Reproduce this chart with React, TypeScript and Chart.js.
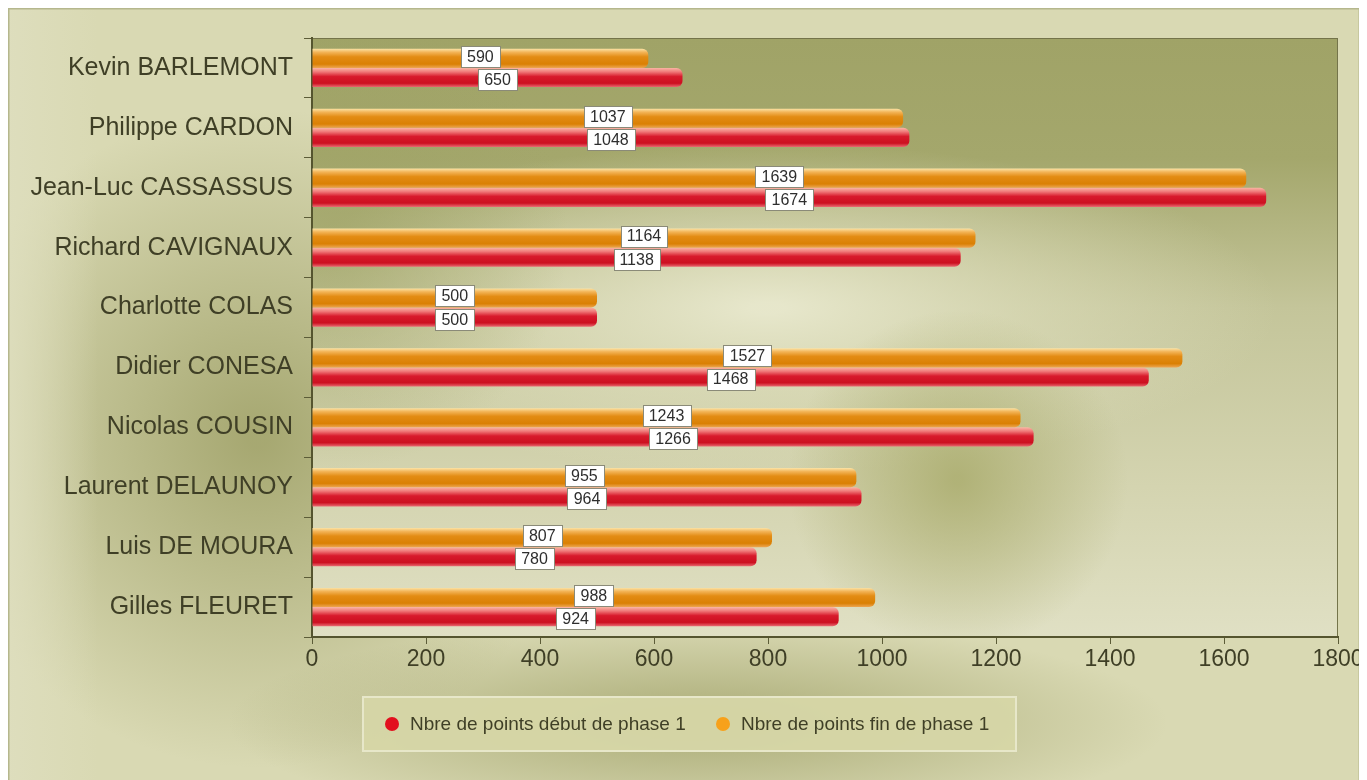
import React, { useEffect, useRef } from "react";
import { Chart, registerables } from "chart.js";

Chart.register(...registerables);

const categories = [
  "Kevin BARLEMONT",
  "Philippe CARDON",
  "Jean-Luc CASSASSUS",
  "Richard CAVIGNAUX",
  "Charlotte COLAS",
  "Didier CONESA",
  "Nicolas COUSIN",
  "Laurent DELAUNOY",
  "Luis DE MOURA",
  "Gilles FLEURET",
];
const debutPhase1 = [650, 1048, 1674, 1138, 500, 1468, 1266, 964, 780, 924];
const finPhase1 = [590, 1037, 1639, 1164, 500, 1527, 1243, 955, 807, 988];
const seriesNames = ["Nbre de points début de phase 1", "Nbre de points fin de phase 1"];
const xMin = 0;
const xMax = 1800;
const xStep = 200;

const FONT = "'Liberation Sans', Arial, sans-serif";
const TEXT = "#3f3f26";
const CAT_PCT = 0.64;

function barGradient(ctx: any, which: "fin" | "debut") {
  const chart = ctx.chart;
  const fallback = which === "fin" ? "#e08a10" : "#d01828";
  const yScale = chart.scales && chart.scales.y;
  if (!yScale || !chart.chartArea || ctx.dataIndex === undefined) return fallback;
  const center = yScale.getPixelForValue(ctx.dataIndex);
  const band = yScale.height / categories.length;
  const h = (band * CAT_PCT) / 2;
  const top = which === "fin" ? center - h : center;
  const g = chart.ctx.createLinearGradient(0, top, 0, top + h);
  if (which === "fin") {
    g.addColorStop(0, "#fbe3a6");
    g.addColorStop(0.18, "#f3b457");
    g.addColorStop(0.42, "#e38c14");
    g.addColorStop(0.8, "#da8004");
    g.addColorStop(1, "#eda652");
  } else {
    g.addColorStop(0, "#f9b6a4");
    g.addColorStop(0.2, "#f07a7a");
    g.addColorStop(0.45, "#d81a2c");
    g.addColorStop(0.8, "#cc1020");
    g.addColorStop(1, "#ea6a72");
  }
  return g;
}

const bgPlugin = {
  id: "bgPlugin",
  beforeDraw(chart: any) {
    const { ctx, width, height, chartArea: ca } = chart;
    if (!ca) return;
    ctx.save();
    ctx.fillStyle = "#e3e3c8";
    ctx.fillRect(0, 0, width, height);
    const FW = 1352;
    ctx.fillStyle = "#d9d9b3";
    ctx.fillRect(0, 0, FW, height);
    let r = ctx.createRadialGradient(250, 430, 10, 250, 430, 330);
    r.addColorStop(0, "rgba(150,152,92,0.75)");
    r.addColorStop(1, "rgba(150,152,92,0)");
    ctx.fillStyle = r;
    ctx.fillRect(0, 0, FW, height);
    ctx.save();
    ctx.translate(690, 715);
    ctx.scale(1, 0.22);
    r = ctx.createRadialGradient(0, 0, 10, 0, 0, 470);
    r.addColorStop(0, "rgba(150,152,92,0.7)");
    r.addColorStop(1, "rgba(150,152,92,0)");
    ctx.fillStyle = r;
    ctx.fillRect(-700, -600, 1400, 1200);
    ctx.restore();
    let lg = ctx.createLinearGradient(0, 0, 90, 0);
    lg.addColorStop(0, "rgba(222,222,190,0.9)");
    lg.addColorStop(1, "rgba(222,222,190,0)");
    ctx.fillStyle = lg;
    ctx.fillRect(0, 0, 90, height);
    ctx.strokeStyle = "#b5b78d";
    ctx.lineWidth = 1.5;
    ctx.strokeRect(0.75, 0.75, FW - 1.5, height + 10);

    const { left, top, right, bottom } = ca;
    const w = right - left;
    const h = bottom - top;
    ctx.save();
    ctx.beginPath();
    ctx.rect(left, top, w, h);
    ctx.clip();
    lg = ctx.createLinearGradient(0, top, 0, bottom);
    lg.addColorStop(0, "#a0a367");
    lg.addColorStop(0.2, "#a4a76c");
    lg.addColorStop(0.45, "#c4c59a");
    lg.addColorStop(0.75, "#d4d4b0");
    lg.addColorStop(1, "#e0e0c4");
    ctx.fillStyle = lg;
    ctx.fillRect(left, top, w, h);
    ctx.save();
    ctx.translate(760, 300);
    ctx.scale(1.7, 0.55);
    r = ctx.createRadialGradient(0, 0, 10, 0, 0, 300);
    r.addColorStop(0, "rgba(234,234,208,0.9)");
    r.addColorStop(0.5, "rgba(226,226,194,0.5)");
    r.addColorStop(1, "rgba(226,226,194,0)");
    ctx.fillStyle = r;
    ctx.fillRect(-600, -900, 1200, 1800);
    ctx.restore();
    r = ctx.createRadialGradient(950, 472, 5, 950, 472, 170);
    r.addColorStop(0, "rgba(168,170,106,0.8)");
    r.addColorStop(1, "rgba(168,170,106,0)");
    ctx.fillStyle = r;
    ctx.fillRect(left, top, w, h);
    r = ctx.createRadialGradient(330, 230, 5, 330, 230, 230);
    r.addColorStop(0, "rgba(158,162,100,0.6)");
    r.addColorStop(1, "rgba(158,162,100,0)");
    ctx.fillStyle = r;
    ctx.fillRect(left, top, w, h);
    ctx.restore();
    ctx.strokeStyle = "#74744a";
    ctx.lineWidth = 1;
    ctx.strokeRect(left + 0.5, top + 0.5, w - 1, h - 1);
    ctx.restore();
  },
};

const labelPlugin = {
  id: "labelPlugin",
  afterDatasetsDraw(chart: any) {
    const ctx = chart.ctx;
    ctx.save();
    ctx.font = `16px ${FONT}`;
    ctx.textAlign = "center";
    ctx.textBaseline = "middle";
    chart.data.datasets.forEach((ds: any, di: number) => {
      const meta = chart.getDatasetMeta(di);
      meta.data.forEach((el: any, i: number) => {
        const txt = String(ds.data[i]);
        const cx = (el.base + el.x) / 2;
        const cy = el.y + (di === 0 ? -2 : 2);
        const tw = ctx.measureText(txt).width;
        const bw = Math.round(tw + 12);
        const bh = 21;
        const bx = Math.round(cx - bw / 2) + 0.5;
        const by = Math.round(cy - bh / 2) + 0.5;
        ctx.fillStyle = "#ffffff";
        ctx.fillRect(bx, by, bw, bh);
        ctx.strokeStyle = "#8a8a78";
        ctx.lineWidth = 1;
        ctx.strokeRect(bx, by, bw, bh);
        ctx.fillStyle = "#2e2e2e";
        ctx.fillText(txt, cx, cy + 1);
      });
    });
    ctx.restore();
  },
};

const legendPlugin = {
  id: "legendPlugin",
  afterDraw(chart: any) {
    const ctx = chart.ctx;
    ctx.save();
    const bx = 354, by = 688, bw = 655, bh = 56;
    ctx.fillStyle = "rgba(214,214,166,0.95)";
    ctx.fillRect(bx, by, bw, bh);
    ctx.strokeStyle = "#e7e7c9";
    ctx.lineWidth = 2;
    ctx.strokeRect(bx + 1, by + 1, bw - 2, bh - 2);
    const cy = by + bh / 2;
    const colors = ["#e2101e", "#f7a11a"];
    const xs = [384, 715];
    ctx.font = `19px ${FONT}`;
    ctx.textBaseline = "middle";
    ctx.textAlign = "left";
    seriesNames.forEach((name, i) => {
      ctx.beginPath();
      ctx.arc(xs[i], cy, 7, 0, Math.PI * 2);
      ctx.fillStyle = colors[i];
      ctx.fill();
      ctx.fillStyle = TEXT;
      ctx.fillText(name, xs[i] + 18, cy + 1);
    });
    ctx.restore();
  },
};

export default function App() {
  const ref = useRef<HTMLCanvasElement | null>(null);
  useEffect(() => {
    document.body.style.overflow = "hidden";
    const canvas = ref.current;
    if (!canvas) return;
    const chart = new Chart(canvas, {
      type: "bar",
      data: {
        labels: categories,
        datasets: [
          {
            label: seriesNames[1],
            data: finPhase1,
            backgroundColor: (c: any) => barGradient(c, "fin"),
            borderWidth: 0,
            borderRadius: 6,
            borderSkipped: "start",
            categoryPercentage: CAT_PCT,
            barPercentage: 1,
          },
          {
            label: seriesNames[0],
            data: debutPhase1,
            backgroundColor: (c: any) => barGradient(c, "debut"),
            borderWidth: 0,
            borderRadius: 6,
            borderSkipped: "start",
            categoryPercentage: CAT_PCT,
            barPercentage: 1,
          },
        ],
      },
      options: {
        indexAxis: "y",
        responsive: false,
        animation: false,
        layout: { padding: { top: 30, right: 29, left: 0, bottom: 0 } },
        plugins: {
          legend: { display: false },
          tooltip: { enabled: false },
          title: { display: false },
        },
        scales: {
          x: {
            type: "linear",
            min: xMin,
            max: xMax,
            afterFit: (s: any) => {
              s.height = 143;
            },
            ticks: {
              stepSize: xStep,
              font: { size: 23, family: FONT },
              color: TEXT,
              padding: 2,
              callback: (v: any) => String(v),
            },
            grid: {
              display: true,
              drawOnChartArea: false,
              drawTicks: true,
              tickLength: 7,
              color: "#5c5c38",
            },
            border: { display: true, color: "#55552f", width: 2 },
          },
          y: {
            type: "category",
            afterFit: (s: any) => {
              s.width = 304;
            },
            ticks: {
              font: { size: 25, family: FONT },
              color: TEXT,
              padding: 11,
            },
            grid: {
              display: true,
              drawOnChartArea: false,
              drawTicks: true,
              tickLength: 8,
              color: "#5c5c38",
            },
            border: { display: true, color: "#55552f", width: 2 },
          },
        },
      },
      plugins: [bgPlugin, labelPlugin, legendPlugin],
    } as any);
    return () => chart.destroy();
  }, []);
  return (
    <div style={{ width: 1359, height: 772 }}>
      <canvas ref={ref} width={1359} height={772} style={{ display: "block" }} />
    </div>
  );
}
